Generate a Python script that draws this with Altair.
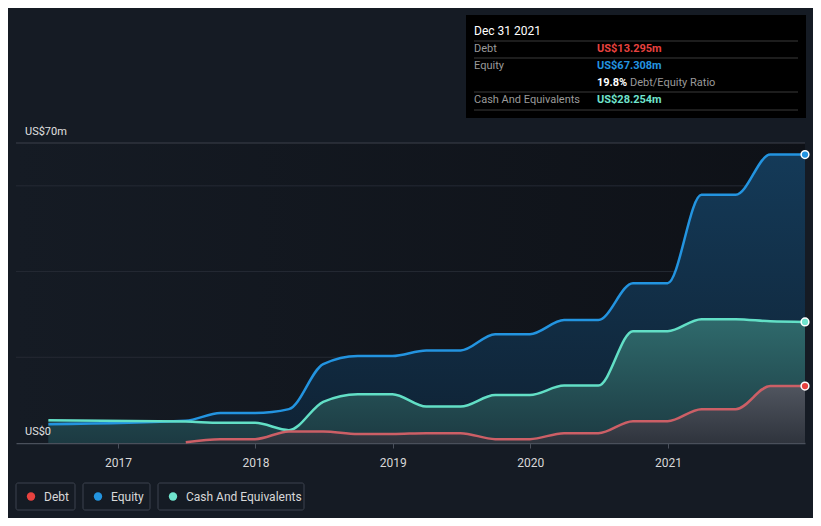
import altair as alt
import pandas as pd

# ---------------- data ----------------
dates = ["2016-06-30", "2017-06-30", "2017-09-30", "2017-12-31", "2018-03-31",
         "2018-06-30", "2018-09-30", "2018-12-31", "2019-03-31", "2019-06-30",
         "2019-09-30", "2019-12-31", "2020-03-31", "2020-06-30", "2020-09-30",
         "2020-12-31", "2021-03-31", "2021-06-30", "2021-09-30", "2021-12-31"]
equity = [4.4, 5.2, 7.0, 7.0, 7.9, 18.4, 20.3, 20.3, 21.6, 21.6,
          25.4, 25.4, 28.7, 28.7, 37.3, 37.3, 57.9, 57.9, 67.3, 67.308]
cash = [5.3, 5.0, 4.7, 4.7, 3.0, 9.6, 11.4, 11.4, 8.5, 8.5,
        11.2, 11.2, 13.4, 13.4, 26.1, 26.1, 28.9, 28.9, 28.4, 28.254]
debt_dates = dates[1:]
debt = [0.2, 0.9, 0.9, 2.7, 2.7, 2.1, 2.1, 2.3, 2.3, 0.9,
        0.9, 2.3, 2.3, 5.1, 5.1, 7.9, 7.9, 13.3, 13.295]

x_tick_years = [2017, 2018, 2019, 2020, 2021]
y_grid = [20, 40, 60]
y_top = [70]
y_label_values = [0, 70]
y_label_texts = ["US$0", "US$70m"]

series_names = ["Debt", "Equity", "Cash And Equivalents"]
legend_colors = ["#e8423f", "#2394e0", "#6fe3cd"]
tooltip_date = "Dec 31 2021"

# ---------------- style ----------------
W, H = 789, 300
BG = "#151b24"
FONT = "Roboto"

df_eq = pd.DataFrame({"date": dates, "value": equity})
df_cash = pd.DataFrame({"date": dates, "value": cash})
df_debt = pd.DataFrame({"date": debt_dates, "value": debt})

x_enc = alt.X(
    "date:T",
    scale=alt.Scale(type="utc", domain=["2016-04-05", "2021-12-31"]),
    axis=alt.Axis(
        values=[alt.DateTime(year=y, month=1, date=1, utc=True) for y in x_tick_years],
        format="%Y", formatType="utc", title=None, grid=False,
        labelColor="#d8d8d8", labelFont=FONT, labelFontSize=12,
        tickColor="#4a505b", tickSize=5, domainColor="#4a505b", domainWidth=1.5,
        labelPadding=9,
    ),
)
y_enc = alt.Y("value:Q", scale=alt.Scale(domain=[0, 70], nice=False, zero=True), axis=None)

dummy = alt.Data(values=[{}])

backdrop = alt.Chart(dummy).mark_rect(
    color=alt.Gradient(gradient="linear",
                       stops=[alt.GradientStop(color=BG, offset=0),
                              alt.GradientStop(color="#0e1117", offset=1)],
                       x1=0, x2=1, y1=0, y2=0)
).encode(x=alt.value(0), x2=alt.value(W), y=alt.value(0), y2=alt.value(H))

grid = alt.Chart(pd.DataFrame({"value": y_grid})).mark_rule(
    color="#252a34", strokeWidth=1).encode(y=y_enc)
top_rule = alt.Chart(pd.DataFrame({"value": y_top})).mark_rule(
    color="#3c414b", strokeWidth=1).encode(y=y_enc)


def grad(top, bottom):
    return alt.Gradient(gradient="linear",
                        stops=[alt.GradientStop(color=top, offset=0),
                               alt.GradientStop(color=bottom, offset=1)],
                        x1=0, x2=0, y1=0, y2=1)


eq_area = alt.Chart(df_eq).mark_area(interpolate="monotone",
                                     color=grad("#143a58", "#0f2234")).encode(x=x_enc, y=y_enc)
cash_area = alt.Chart(df_cash).mark_area(interpolate="monotone",
                                         color=grad("#2f6a6c", "#1c3a42")).encode(x=x_enc, y=y_enc)
debt_area = alt.Chart(df_debt).mark_area(interpolate="monotone",
                                         color=grad("#50555f", "#2f343d")).encode(x=x_enc, y=y_enc)

eq_line = alt.Chart(df_eq).mark_line(interpolate="monotone", color="#2394e0",
                                     strokeWidth=2.5).encode(x=x_enc, y=y_enc)
cash_line = alt.Chart(df_cash).mark_line(interpolate="monotone", color="#62dfc6",
                                         strokeWidth=2.5).encode(x=x_enc, y=y_enc)
debt_line = alt.Chart(df_debt).mark_line(interpolate="monotone", color="#cc5f66",
                                         strokeWidth=2.5).encode(x=x_enc, y=y_enc)


def endpoint(df, color):
    return alt.Chart(df.tail(1)).mark_circle(color=color, opacity=1, size=60,
                                             stroke="white", strokeWidth=1.5).encode(x=x_enc, y=y_enc)


ends = [endpoint(df_eq, "#2394e0"), endpoint(df_cash, "#6fe3cd"), endpoint(df_debt, "#e8423f")]

ylabels = alt.Chart(pd.DataFrame({"value": y_label_values, "label": y_label_texts})).mark_text(
    align="left", baseline="middle", dx=0, dy=-11, color="#e0e0e0", font=FONT, fontSize=11
).encode(x=alt.value(9), y=y_enc, text="label:N")

# ---------------- tooltip box ----------------
tip_layers = []
tip_layers.append(alt.Chart(dummy).mark_rect(color="#000000").encode(
    x=alt.value(450), x2=alt.value(790), y=alt.value(-128), y2=alt.value(-25)))
for yy in [-102, -85, -51, -33]:
    tip_layers.append(alt.Chart(dummy).mark_rule(color="#3a3a3a", strokeWidth=1).encode(
        x=alt.value(458), x2=alt.value(782), y=alt.value(yy)))


def tip_text(txt, x, y, color, weight="normal", size=11):
    return alt.Chart(dummy).mark_text(text=txt, align="left", baseline="middle", color=color,
                                      font=FONT, fontSize=size, fontWeight=weight).encode(
        x=alt.value(x), y=alt.value(y))


ratio = debt[-1] / equity[-1] * 100
tip_layers += [
    tip_text(tooltip_date, 458, -112, "#ffffff", "normal", 12),
    tip_text(series_names[0], 458, -94, "#9a9a9a"),
    tip_text(f"US${debt[-1]:.3f}m", 581, -94, "#e8423f", "bold"),
    tip_text(series_names[1], 458, -77, "#9a9a9a"),
    tip_text(f"US${equity[-1]:.3f}m", 581, -77, "#2394e0", "bold"),
    tip_text(f"{ratio:.1f}%", 581, -60, "#ffffff", "bold"),
    tip_text("Debt/Equity Ratio", 614, -60, "#9a9a9a"),
    tip_text(series_names[2], 458, -43, "#9a9a9a"),
    tip_text(f"US${cash[-1]:.3f}m", 581, -43, "#6fe3cd", "bold"),
]

# ---------------- legend ----------------
legend_layers = []
box_x = [0, 67, 142]
box_w = [59, 67, 146]
for name, col, bx, bw in zip(series_names, legend_colors, box_x, box_w):
    legend_layers.append(alt.Chart(dummy).mark_rect(fill=BG, stroke="#3d434e", strokeWidth=1,
                                                    cornerRadius=2).encode(
        x=alt.value(bx), x2=alt.value(bx + bw), y=alt.value(340), y2=alt.value(367)))
    legend_layers.append(alt.Chart(dummy).mark_circle(color=col, opacity=1, size=70).encode(
        x=alt.value(bx + 15), y=alt.value(353.5)))
    legend_layers.append(alt.Chart(dummy).mark_text(text=name, align="left", baseline="middle",
                                                    color="#d8d8d8", font=FONT, fontSize=12).encode(
        x=alt.value(bx + 28), y=alt.value(353.5)))

chart = alt.layer(
    backdrop, grid, top_rule,
    eq_area, cash_area, debt_area,
    eq_line, cash_line, debt_line,
    *ends, ylabels, *tip_layers, *legend_layers,
).properties(
    width=W, height=H,
    background=BG,
    padding={"left": 8, "top": 135, "right": 8, "bottom": 75},
    autosize=alt.AutoSizeParams(type="none"),
).configure_view(stroke=None)

chart.save("out.html", embed_options={"renderer": "svg", "actions": False})
